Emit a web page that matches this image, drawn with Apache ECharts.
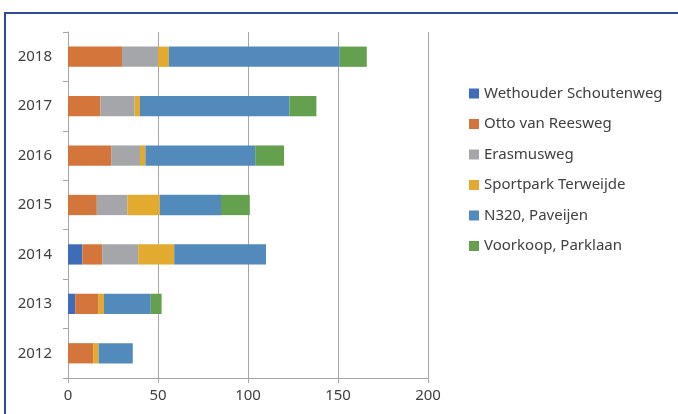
<!DOCTYPE html>
<html>
<head>
<meta charset="utf-8">
<script src="https://cdn.jsdelivr.net/npm/echarts@6/dist/echarts.min.js"></script>
<style>
  html, body { margin: 0; padding: 0; background: #fff; overflow: hidden; }
  #frame { position: absolute; left: 4px; top: 12px; width: 720px; height: 440px;
           border-top: 2px solid #2f4a9c; border-left: 2px solid #2f4a9c; }
  #chart { position: absolute; left: 0; top: 0; width: 678px; height: 414px; }
</style>
</head>
<body>
<div id="frame"></div>
<div id="chart"></div>
<script>
// Years, bottom to top
const years = ['2012', '2013', '2014', '2015', '2016', '2017', '2018'];

// One array per location
const wethouder = [0, 4, 8, 0, 0, 0, 0];
const ottoVanRees = [14, 13, 11, 16, 24, 18, 30];
const erasmus = [0, 0, 20, 17, 16, 19, 20];
const sportpark = [3, 3, 20, 18, 3, 3, 6];
const n320 = [19, 26, 51, 34, 61, 83, 95];
const voorkoop = [0, 6, 0, 16, 16, 15, 15];

const xTicks = { min: 0, max: 200, interval: 50 };

const LINE = '#a6a6a6';
const TEXT = '#404040';
const FONT = '"Noto Sans", "Open Sans", sans-serif';

const defs = [
  { name: 'Wethouder Schoutenweg', data: wethouder,   color: '#3f6cb8' },
  { name: 'Otto van Reesweg',      data: ottoVanRees, color: '#d4763b' },
  { name: 'Erasmusweg',            data: erasmus,     color: '#a5a6a9' },
  { name: 'Sportpark Terweijde',   data: sportpark,   color: '#e2aa2e' },
  { name: 'N320, Paveijen',        data: n320,        color: '#528bbb' },
  { name: 'Voorkoop, Parklaan',    data: voorkoop,    color: '#65a04f' },
];

const chart = echarts.init(document.getElementById('chart'));
chart.setOption({
  animation: false,
  textStyle: { fontFamily: FONT },
  grid: { left: 68, right: 250, top: 32, bottom: 36, containLabel: false },
  legend: {
    orient: 'vertical', left: 469, top: 86, padding: 0,
    itemWidth: 10, itemHeight: 10, itemGap: 15.5, icon: 'rect',
    textStyle: { color: TEXT, fontSize: 15, fontFamily: FONT },
    data: defs.map(d => d.name),
  },
  xAxis: {
    type: 'value', ...xTicks,
    axisLine: { show: true, lineStyle: { color: LINE, width: 1 } },
    axisTick: { show: true, length: 5, lineStyle: { color: LINE } },
    splitLine: { show: true, lineStyle: { color: LINE, width: 1 } },
    axisLabel: { color: TEXT, fontSize: 15, margin: 10, fontFamily: FONT },
  },
  yAxis: {
    type: 'category', data: years,
    axisLine: { show: true, lineStyle: { color: LINE, width: 1 } },
    axisTick: { show: true, length: 5, lineStyle: { color: LINE } },
    axisLabel: { color: TEXT, fontSize: 15, margin: 16, fontFamily: FONT },
  },
  series: defs.map(d => ({
    name: d.name, type: 'bar', stack: 'total',
    barCategoryGap: '59%',
    itemStyle: { color: d.color },
    data: d.data,
  })),
});
</script>
</body>
</html>
